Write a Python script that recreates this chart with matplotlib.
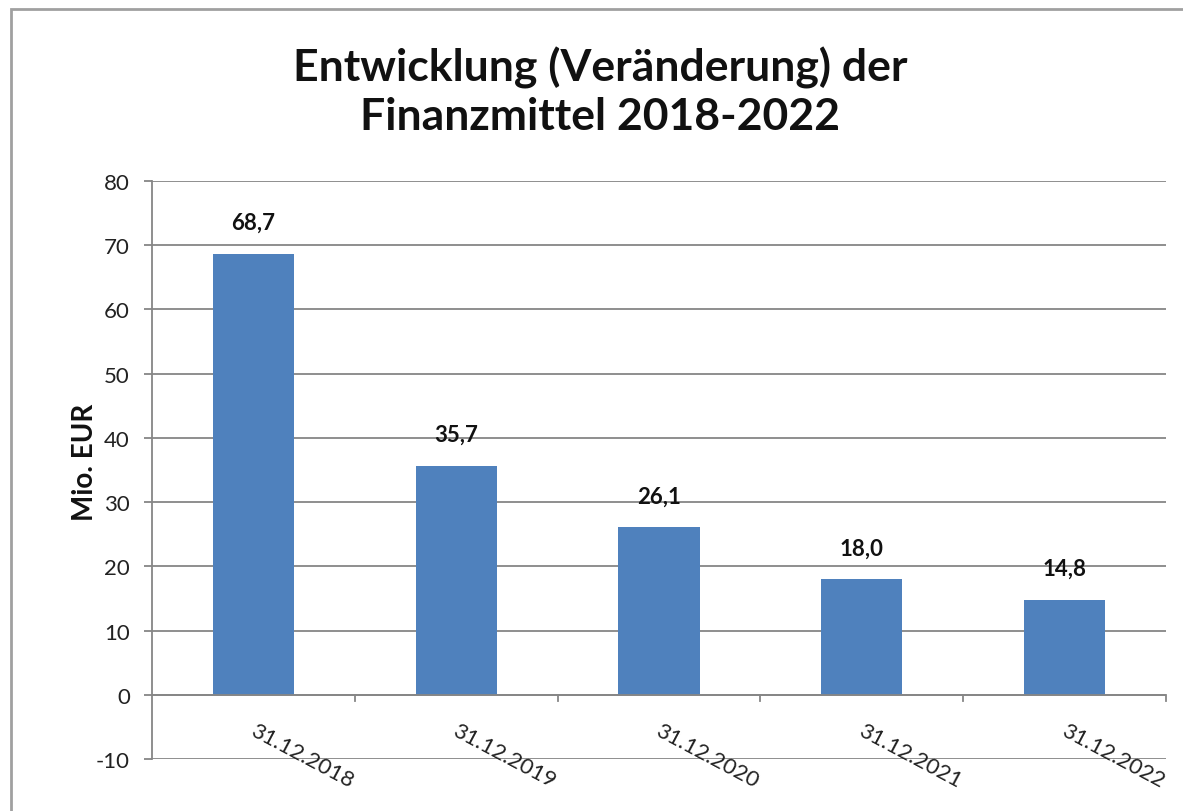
import numpy as np
import matplotlib.pyplot as plt
from matplotlib.patches import Rectangle

# Werte aus dem Diagramm
dates = ['31.12.2018', '31.12.2019', '31.12.2020', '31.12.2021', '31.12.2022']
values = [68.7, 35.7, 26.1, 18.0, 14.8]
value_labels = ['68,7', '35,7', '26,1', '18,0', '14,8']
yticks = [-10, 0, 10, 20, 30, 40, 50, 60, 70, 80]

plt.rcParams['font.family'] = ['Lato', 'DejaVu Sans']
W, H = 1183, 812
fig = plt.figure(figsize=(W / 100, H / 100), dpi=100)

# Rahmen um das Diagramm (rechts/unten abgeschnitten)
fig.patches.append(Rectangle((11 / W, -0.05), 1.2, 1 - 10 / H + 0.05,
                             transform=fig.transFigure, fill=False,
                             edgecolor='#a0a0a0', linewidth=2.0))

ax = fig.add_axes([152 / W, 1 - 760 / H, (1166 - 152) / W, (760 - 182) / H])
x = np.arange(len(dates))
ax.bar(x, values, width=0.4, color='#4F81BD', zorder=3)

ax.set_xlim(-0.5, len(dates) - 0.5)
ax.set_ylim(-10, 80)
ax.set_yticks(yticks)
ax.set_yticklabels([str(v) for v in yticks], fontsize=16, color='#222222')
ax.yaxis.grid(True, color='#868686', linewidth=1.3, zorder=0)
ax.tick_params(axis='y', length=6, width=1.3, color='#868686', pad=10)

for s in ['top', 'right', 'bottom']:
    ax.spines[s].set_visible(False)
ax.spines['left'].set_color('#868686')
ax.spines['left'].set_linewidth(1.3)

# x-Achse bei 0 mit Teilstrichen zwischen den Kategorien
ax.set_xticks([])
ax.axhline(0, color='#868686', linewidth=1.3, zorder=4)
for b in np.arange(0.5, len(dates) + 0.5, 1.0):
    ax.plot([b, b], [0, -1.0], color='#868686', linewidth=1.3, clip_on=False, zorder=4)

for xi, d in zip(x, dates):
    ax.text(xi - 0.01, -5.3, d, rotation=-28, rotation_mode='anchor', ha='left', va='center',
            fontsize=16, color='#222222')

for xi, v, lab in zip(x, values, value_labels):
    ax.text(xi, v + 3.2, lab, ha='center', va='bottom', fontsize=16,
            fontweight='bold', color='#111111')

fig.text(85 / W, 1 - 462 / H, 'Mio. EUR', rotation=90, ha='center', va='center',
         fontsize=20, fontweight='bold', color='#111111')

fig.text(600 / W, 1 - 92 / H, 'Entwicklung (Veränderung) der\nFinanzmittel 2018-2022',
         ha='center', va='center', fontsize=32, fontweight='bold',
         linespacing=1.25, color='#111111')

fig.savefig('out.png', dpi=100)
